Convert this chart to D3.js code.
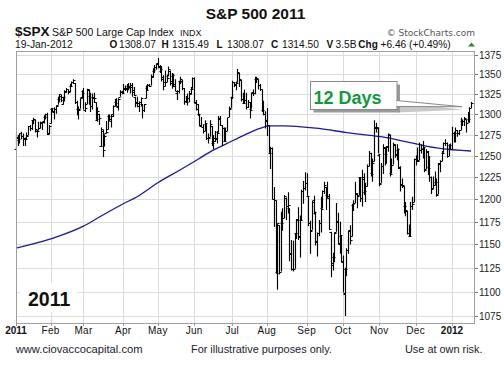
<!DOCTYPE html>
<html><head><meta charset="utf-8">
<script src="https://cdn.jsdelivr.net/npm/d3@7"></script>
<style>
body{margin:0;background:#fff;}
svg{display:block;font-family:"Liberation Sans",Arial,Helvetica,sans-serif;}
</style>
</head><body>
<svg id="c" width="504" height="366"></svg>
<script>
// ---------------- DATA ----------------
const title = "S&P 500 2011";
const monthLabels = ["2011","Feb","Mar","Apr","May","Jun","Jul","Aug","Sep","Oct","Nov","Dec","2012"];
const monthTradingDays = [20,19,23,20,21,22,20,23,21,21,21,21,12];
const yTickValues = [1075,1100,1125,1150,1175,1200,1225,1250,1275,1300,1325,1350,1375];

const opens = [
1258,1273,1269,1277,1274,1270,1272,1275,1286,1283,1293,1294,1280,1281,1283,1289,1292,1297,1300,1277,
1289,1307,1303,1307,1312,1319,1323,1313,1318,1328,1331,1329,1335,1341,1339,1315,1307,1307,1321,
1329,1305,1313,1330,1323,1311,1320,1315,1293,1301,1262,1280,1262,1277,1282,1298,1292,1300,1311,1315,1309,1322,1328,
1329,1333,1332,1336,1334,1337,1330,1322,1315,1311,1315,1313,1306,1320,1333,1337,1336,1348,1354,1360,
1365,1359,1355,1344,1340,1340,1348,1354,1339,1348,1335,1327,1329,1342,1342,1333,1317,1316,1320,1325,1332,
1345,1314,1307,1300,1287,1285,1280,1288,1272,1273,1286,1266,1271,1270,1279,1295,1287,1284,1268,1280,1297,1308,
1321,1340,1337,1340,1352,1343,1319,1314,1318,1309,1315,1307,1328,1326,1344,1344,1337,1331,1305,1300,
1293,1287,1254,1260,1200,1199,1121,1171,1121,1173,1179,1202,1193,1190,1140,1124,1124,1162,1177,1158,1177,1209,1213,
1219,1204,1174,1166,1197,1185,1153,1162,1173,1190,1209,1214,1205,1204,1164,1128,1137,1164,1176,1152,1159,
1132,1098,1124,1144,1166,1159,1194,1196,1206,1205,1225,1201,1223,1208,1215,1238,1254,1230,1244,1284,1284,
1251,1219,1238,1260,1253,1262,1275,1230,1240,1263,1251,1257,1236,1217,1215,1193,1187,1162,1159,1193,1197,
1246,1246,1245,1257,1258,1260,1235,1256,1237,1225,1213,1216,1220,1206,1242,1244,1254,1265,1265,1250,1263,
1258,1277,1277,1281,1278,1281,1292,1292,1294,1290,1294,1308.07
];
const highs = [
1277,1275,1277,1279,1277,1272,1278,1286,1287,1293,1296,1294,1280,1291,1291,1291,1299,1301,1302,1287,
1308,1308,1309,1311,1322,1325,1324,1322,1330,1333,1331,1338,1341,1344,1339,1317,1310,1320,1330,
1333,1315,1332,1331,1327,1326,1327,1315,1309,1301,1284,1281,1276,1292,1300,1300,1300,1311,1319,1320,1320,1330,1329,
1338,1336,1338,1339,1339,1339,1334,1322,1322,1316,1321,1313,1313,1336,1338,1338,1350,1358,1362,1364,
1371,1362,1361,1349,1355,1350,1360,1355,1352,1351,1344,1330,1342,1347,1343,1333,1323,1326,1329,1334,1346,
1346,1318,1313,1301,1297,1288,1293,1288,1277,1293,1286,1275,1280,1280,1298,1298,1287,1284,1284,1296,1310,1322,
1342,1340,1341,1357,1352,1343,1327,1331,1327,1318,1315,1327,1331,1347,1347,1344,1338,1331,1317,1304,
1308,1287,1261,1260,1214,1199,1173,1171,1186,1190,1205,1202,1208,1190,1155,1154,1162,1178,1191,1182,1211,1221,1231,
1230,1204,1176,1198,1204,1186,1163,1177,1203,1210,1220,1214,1220,1206,1164,1141,1163,1196,1185,1175,1159,
1138,1125,1146,1165,1171,1195,1199,1220,1207,1225,1225,1234,1230,1219,1240,1256,1254,1247,1293,1290,1284,
1251,1242,1264,1260,1262,1277,1275,1247,1266,1264,1264,1259,1238,1224,1215,1197,1187,1172,1197,1203,1247,
1251,1260,1266,1264,1268,1260,1258,1256,1250,1226,1226,1232,1224,1242,1245,1256,1266,1270,1266,1264,1265,
1285,1279,1284,1281,1281,1296,1294,1297,1294,1303,1309,1315.49
];
const lows = [
1258,1262,1265,1270,1262,1262,1270,1275,1280,1281,1288,1278,1272,1281,1283,1281,1289,1294,1275,1276,
1289,1303,1294,1301,1312,1315,1315,1312,1316,1327,1325,1328,1334,1338,1313,1299,1294,1307,1320,
1306,1303,1313,1312,1303,1306,1314,1294,1291,1287,1261,1249,1262,1277,1282,1292,1284,1297,1310,1310,1305,1322,1325,
1326,1329,1327,1330,1326,1322,1323,1309,1309,1303,1310,1295,1303,1320,1330,1334,1336,1346,1352,1356,
1358,1352,1341,1330,1335,1340,1348,1336,1332,1334,1329,1318,1326,1338,1330,1312,1314,1311,1315,1325,1332,
1314,1305,1298,1286,1285,1277,1280,1269,1265,1273,1262,1258,1267,1265,1278,1286,1262,1267,1267,1280,1297,1308,
1319,1334,1330,1340,1334,1316,1313,1314,1306,1308,1295,1307,1323,1325,1339,1331,1329,1303,1299,1283,
1274,1254,1235,1200,1169,1119,1102,1118,1121,1165,1179,1177,1184,1132,1122,1121,1124,1156,1155,1136,1177,1195,1210,
1204,1170,1140,1166,1183,1149,1137,1159,1163,1190,1206,1188,1201,1166,1115,1122,1131,1164,1150,1140,1131,
1099,1075,1116,1140,1150,1159,1187,1196,1190,1205,1197,1192,1205,1197,1215,1238,1226,1220,1244,1278,1253,
1215,1219,1229,1239,1241,1255,1226,1230,1240,1248,1245,1235,1209,1213,1184,1181,1161,1158,1159,1188,1197,
1239,1243,1245,1253,1247,1231,1235,1228,1220,1206,1212,1216,1203,1206,1231,1244,1254,1262,1248,1250,1257,
1258,1266,1266,1273,1275,1281,1286,1286,1278,1290,1290,1308.07
];
const closes = [
1272,1270,1277,1274,1272,1270,1274,1286,1284,1293,1295,1282,1280,1283,1291,1291,1297,1300,1276,1286,
1308,1304,1307,1311,1319,1325,1321,1322,1329,1332,1328,1336,1340,1343,1315,1307,1306,1320,1327,
1306,1308,1331,1321,1310,1322,1320,1295,1304,1296,1282,1257,1274,1279,1298,1294,1298,1310,1314,1310,1319,1328,1326,
1332,1333,1333,1336,1334,1328,1324,1314,1314,1315,1320,1305,1313,1330,1337,1335,1347,1356,1360,1364,
1361,1357,1347,1335,1340,1346,1357,1342,1349,1338,1329,1329,1341,1344,1333,1317,1316,1320,1326,1331,1345,
1315,1313,1300,1286,1285,1280,1289,1271,1272,1288,1265,1268,1272,1278,1296,1287,1284,1268,1280,1297,1307,1321,
1340,1338,1339,1353,1344,1319,1314,1318,1309,1316,1305,1327,1326,1344,1345,1337,1332,1305,1301,1292,
1287,1254,1260,1200,1199,1119,1173,1121,1173,1179,1204,1193,1194,1141,1124,1124,1162,1178,1159,1177,1210,1213,1219,
1204,1174,1165,1199,1186,1154,1162,1173,1189,1209,1216,1204,1202,1167,1130,1136,1163,1175,1151,1160,1131,
1099,1124,1144,1165,1155,1195,1196,1207,1204,1225,1201,1225,1210,1215,1238,1254,1229,1242,1285,1285,1253,
1218,1238,1261,1253,1261,1276,1229,1240,1264,1252,1258,1237,1216,1216,1193,1188,1162,1159,1193,1195,1247,
1245,1244,1257,1258,1261,1234,1255,1236,1226,1212,1216,1220,1205,1241,1244,1254,1265,1265,1250,1263,1258,
1277,1277,1281,1278,1281,1292,1292,1296,1289,1294,1308,1314.5
];
// 200-day moving average, read at selected trading-day indexes
const maIndex = [0,20,39,49,62,70,82,95,105,114,122,132,141,146,155,165,175,191,211,230,245,263];
const maValue = [1146,1156,1170,1181,1195,1203,1219,1234,1246,1257,1265,1275,1283,1286,1286,1285,1283,1278,1273,1265,1259,1256];

const headerLabels = ["O","H","L","C","V","Chg"];
const headerValues = ["1308.07","1315.49","1308.07","1314.50","3.5B","+6.46 (+0.49%)"];
const calloutText = "12 Days";
const yearLabel = "2011";

// ---------------- CHART ----------------
const svg = d3.select("#c");
const L = 16, R = 475, T = 51, B = 323;
const x = d3.scaleLinear().domain([0, 265.3]).range([L, R]);
const y = d3.scaleLog().domain([1075, 1375]).range([316, 55]);
const px = v => Math.round(v) + 0.5;

const monthStart = [];
monthTradingDays.reduce((acc, n) => { monthStart.push(acc); return acc + n; }, 0);

// Title
svg.append("text").attr("x", 255.5).attr("y", 19).attr("text-anchor", "middle")
  .attr("font-size", 15.5).attr("font-weight", "bold").attr("fill", "#111").text(title);

// Header line 1
svg.append("text").attr("x", 15).attr("y", 36).attr("font-size", 13.5).attr("font-weight", "bold").attr("fill", "#111").text("$SPX");
svg.append("text").attr("x", 52).attr("y", 36).attr("font-size", 10.5).attr("fill", "#111").text("S&P 500 Large Cap Index");
svg.append("text").attr("x", 180).attr("y", 36).attr("font-size", 9).attr("fill", "#111").text("INDX");
svg.append("text").attr("x", 475).attr("y", 36).attr("text-anchor", "end").attr("font-size", 9)
  .attr("font-family", "DejaVu Sans, Verdana, sans-serif").attr("fill", "#555").text("\u00A9 StockCharts.com");

// Header line 2
svg.append("text").attr("x", 15).attr("y", 48).attr("font-size", 10.3).attr("fill", "#111").text("19-Jan-2012");
const labX = [109.5, 161.5, 216.5, 271, 326.5, 358.3];
const valX = [119, 172, 227, 282, 335.5, 380.5];
headerLabels.forEach((t, i) => {
  svg.append("text").attr("x", labX[i]).attr("y", 48).attr("font-size", 10).attr("font-weight", "bold").attr("fill", "#111").text(t);
  svg.append("text").attr("x", valX[i]).attr("y", 48).attr("font-size", 10.2).attr("fill", "#111").text(headerValues[i]);
});
svg.append("path").attr("d", "M468,46.5 L475,46.5 L471.5,42.5 Z").attr("fill", "#2a8a3a");

// Grid
const g = svg.append("g");
g.selectAll("line.hg").data(yTickValues).enter().append("line")
  .attr("x1", L).attr("x2", R).attr("y1", d => px(y(d))).attr("y2", d => px(y(d)))
  .attr("stroke", "#dcdcdc").attr("stroke-width", 1);
g.selectAll("line.vg").data(monthStart.slice(1)).enter().append("line")
  .attr("x1", d => px(x(d))).attr("x2", d => px(x(d))).attr("y1", T).attr("y2", B)
  .attr("stroke", "#dcdcdc").attr("stroke-width", 1);

// "2011" label with white backing
svg.append("rect").attr("x", 20).attr("y", 283).attr("width", 57).attr("height", 29).attr("fill", "#fff");
svg.append("text").attr("x", 28).attr("y", 306).attr("font-size", 19.5).attr("font-weight", "bold").attr("fill", "#111").text(yearLabel);

// Moving average
const maData = maIndex.map((d, i) => [d, maValue[i]]);
svg.append("path").datum(maData)
  .attr("d", d3.line().x(d => x(d[0])).y(d => y(d[1])).curve(d3.curveMonotoneX))
  .attr("fill", "none").attr("stroke", "#1c1c96").attr("stroke-width", 1.3);

// OHLC bars
let dPath = "";
closes.forEach((c, i) => {
  const xi = px(x(i));
  dPath += `M${xi},${y(highs[i]).toFixed(1)}V${y(lows[i]).toFixed(1)}`;
  const yo = px(y(opens[i])), yc = px(y(closes[i]));
  dPath += `M${xi - 2},${yo}H${xi}M${xi},${yc}H${xi + 2}`;
});
svg.append("path").attr("d", dPath).attr("fill", "none").attr("stroke", "#000").attr("stroke-width", 1.15);

// Frame
svg.append("rect").attr("x", L + 0.5).attr("y", T + 0.5).attr("width", R - L - 1).attr("height", B - T)
  .attr("fill", "none").attr("stroke", "#a0a0a0");

// Y axis (right)
const ya = svg.append("g");
yTickValues.forEach(v => {
  const yy = px(y(v));
  ya.append("line").attr("x1", R).attr("x2", R + 3).attr("y1", yy).attr("y2", yy).attr("stroke", "#777");
  ya.append("text").attr("x", 479).attr("y", yy).attr("dy", "0.36em").attr("font-size", 10).attr("fill", "#222").text(v);
});

// X axis labels
monthStart.forEach((d, i) => {
  const xx = px(x(d));
  svg.append("line").attr("x1", xx).attr("x2", xx).attr("y1", B).attr("y2", B + 3).attr("stroke", "#999");
  const bold = (i === 0 || i === monthLabels.length - 1);
  svg.append("text").attr("x", x(d)).attr("y", 334).attr("text-anchor", "middle")
    .attr("font-size", 10).attr("font-weight", bold ? "bold" : "normal").attr("fill", "#111")
    .attr("letter-spacing", bold ? 0 : 0.3).text(monthLabels[i]);
});

// Callout "12 Days"
const tipX = x(263) - 9, tipY = y(closes[263]) + 4;
const cg = svg.append("g");
const bx = 310.5, by = 81.5, bw = 86.5, bh = 28;
cg.append("path").attr("d", `M${bx + bw},${by + bh - 8} L${tipX + 1},${tipY + 3} L${bx + bw},${by + bh + 3} Z`).attr("fill", "#c8c8c8");
cg.append("rect").attr("x", bx + 3).attr("y", by + 3).attr("width", bw).attr("height", bh).attr("fill", "#9a9a9a");
cg.append("rect").attr("x", bx).attr("y", by).attr("width", bw).attr("height", bh).attr("fill", "#fff").attr("stroke", "#888");
cg.append("path").attr("d", `M${bx + bw - 0.5},${by + bh - 9} L${tipX},${tipY} L${bx + bw - 0.5},${by + bh - 3}`)
  .attr("fill", "#fff").attr("stroke", "#888");
cg.append("text").attr("x", bx + 3).attr("y", by + 22).attr("font-size", 18).attr("font-weight", "bold")
  .attr("fill", "#119a3c").text(calloutText);

// Footer
svg.append("text").attr("x", 15.7).attr("y", 353).attr("font-size", 11.2).attr("fill", "#1b1b2e").text("www.ciovaccocapital.com");
svg.append("text").attr("x", 191).attr("y", 353).attr("font-size", 10.9).attr("fill", "#1b1b2e").text("For illustrative purposes only.");
svg.append("text").attr("x", 405).attr("y", 353).attr("font-size", 10.9).attr("fill", "#1b1b2e").text("Use at own risk.");
</script>
</body></html>
